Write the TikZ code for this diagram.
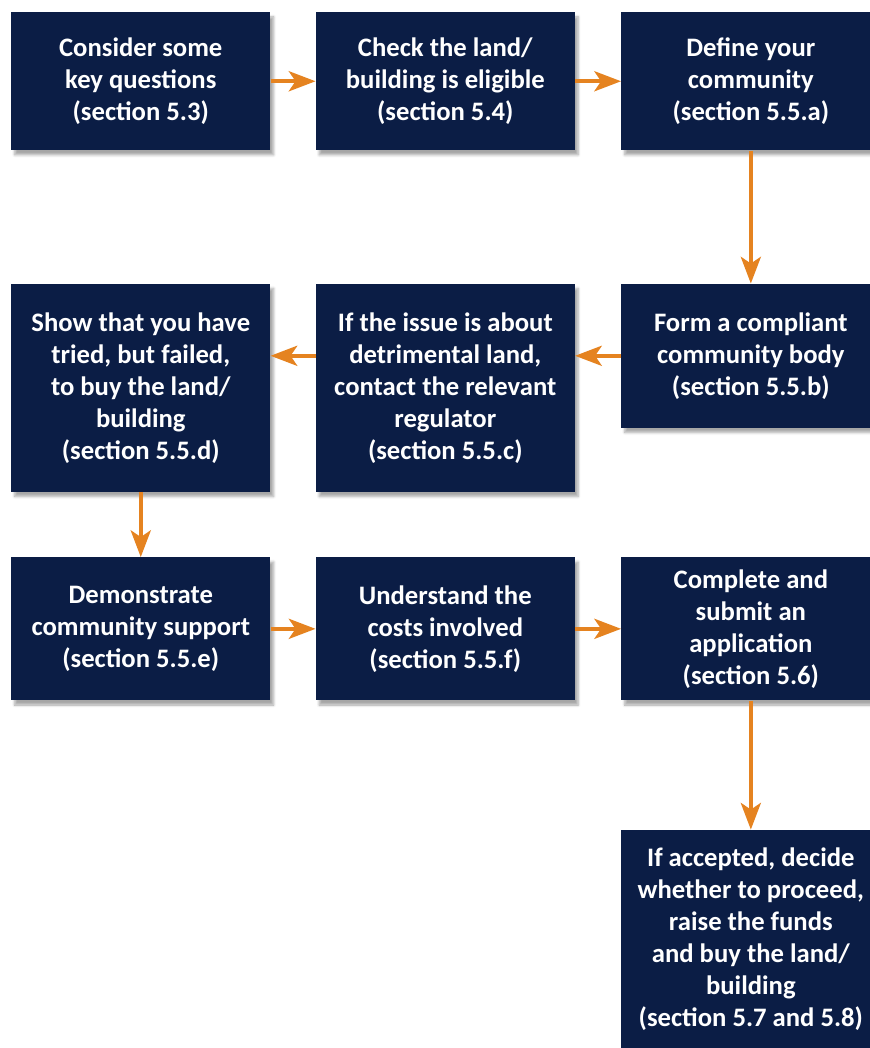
\documentclass[tikz,border=0pt]{standalone}
\usepackage{fontspec}
\setmainfont{Carlito}
\usetikzlibrary{positioning,arrows.meta,shadows.blur}
\definecolor{navy}{RGB}{11,29,69}
\definecolor{flow}{RGB}{229,131,32}

\begin{document}
\begin{tikzpicture}[x=1pt,y=1pt,box/.style={fill=navy, text=white, align=center, inner sep=0pt, minimum width=194.25pt, font=\bfseries\fontsize{20}{24}\selectfont, blur shadow={shadow xshift=2.5pt,shadow yshift=-3.5pt,shadow blur steps=6,shadow opacity=35}},link/.style={draw=flow, line width=3pt, -{Stealth[length=20pt,width=15pt,inset=5pt]}}]
\useasboundingbox (0,0) rectangle (651.75,-786);
% top row
\node[box,minimum height=103.5pt,anchor=north west] (key) at (8.25,-9) {Consider some\\key questions\\(section 5.3)};
\node[box,minimum height=103.5pt,right=33.75pt of key] (elig) {Check the land/\\building is eligible\\(section 5.4)};
\node[box,minimum height=103.5pt,right=34.5pt of elig] (comm) {Define your\\community\\(section 5.5.a)};
% second row
\node[box,minimum height=156pt,below=99.75pt of key] (tried) {Show that you have\\tried, but failed,\\to buy the land/\\building\\(section 5.5.d)};
\node[box,minimum height=156pt,below=99.75pt of elig] (regul) {If the issue is about\\detrimental land,\\contact the relevant\\regulator\\(section 5.5.c)};
\node[box,minimum height=108pt,below=99.75pt of comm] (body) {Form a compliant\\community body\\(section 5.5.b)};
% third row
\node[box,minimum height=107.25pt,below=48.75pt of tried] (support) {Demonstrate\\community support\\(section 5.5.e)};
\node[box,minimum height=107.25pt,right=33.75pt of support] (costs) {Understand the\\costs involved\\(section 5.5.f)};
\node[box,minimum height=107.25pt,right=34.5pt of costs] (apply) {Complete and\\submit an\\application\\(section 5.6)};
\node[box,minimum height=164.25pt,below=96.75pt of apply] (buy) {If accepted, decide\\whether to proceed,\\raise the funds\\and buy the land/\\building\\(section 5.7 and 5.8)};
% arrows
\draw[link] (key) -- (elig);
\draw[link] (elig) -- (comm);
\draw[link] (comm) -- (body);
\draw[link] (body.west) -- (body.west -| regul.east);
\draw[link] (body.west -| regul.west) -- (body.west -| tried.east);
\draw[link] (tried) -- (support);
\draw[link] (support) -- (costs);
\draw[link] (costs) -- (apply);
\draw[link] (apply) -- (buy);
\end{tikzpicture}
\end{document}
